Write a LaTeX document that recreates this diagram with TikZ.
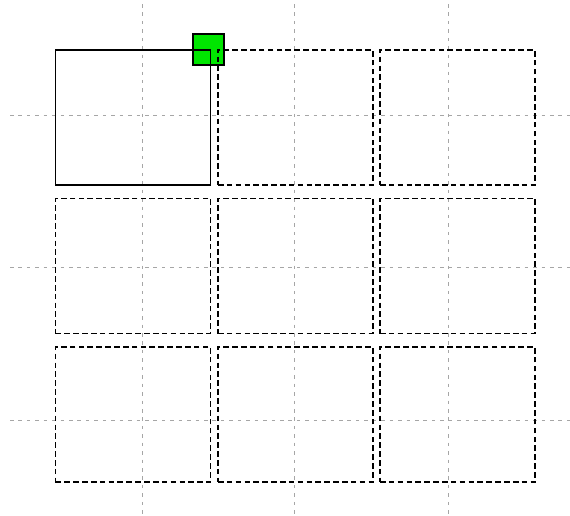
\documentclass[tikz,border=0pt]{standalone}
\usepackage{tikz}
\usetikzlibrary{positioning}

\tikzset{
	guide/.style={gray!70, line width=0.5pt, dash pattern=on 2.5pt off 3.5pt},
	cellbox/.style={draw, line width=1.2pt, inner sep=0pt, minimum width=3.875cm, minimum height=3.375cm},
	marker/.style={draw, fill=green!90!black, line width=1pt, inner sep=0pt, minimum size=0.775cm}
}

\begin{document}
\begin{tikzpicture}[x=0.025cm, y=-0.025cm]
		\useasboundingbox (0, 0) rectangle (570, 515);

		% background guide lines
		\foreach \gx in {142, 294, 448}
			\draw [guide] (\gx, 4) -- (\gx, 515);
		\foreach \gy in {115, 267, 420}
			\draw [guide] (10, \gy) -- (570, \gy);

		% green marker at the corner of the first cell
		\node [marker] (mark) at (208.5, 49.5) {};

		% the cells, first one solid
		\node [cellbox] (c11) at (133, 117.5) {};
		\foreach \col/\cx in {2/295.5, 3/457.5}
			\node [cellbox, dash pattern=on 4pt off 2.3pt] (c1\col) at (\cx, 117.5) {};
		\foreach \row/\cy in {2/266, 3/414.5}
			\foreach \col/\cx in {1/133, 2/295.5, 3/457.5}
				\node [cellbox, dash pattern=on 4pt off 2.3pt] (c\row\col) at (\cx, \cy) {};
	\end{tikzpicture}
\end{document}
